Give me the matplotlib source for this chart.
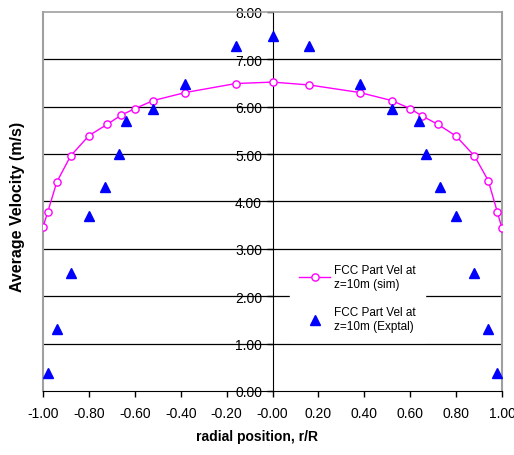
import matplotlib.pyplot as plt
import numpy as np

plt.rcParams['font.family'] = ['Liberation Sans', 'DejaVu Sans']

# simulation (line with open circles)
sim_r = [-1.00, -0.98, -0.94, -0.88, -0.80, -0.72, -0.66, -0.60, -0.52, -0.38, -0.16, 0.00,
         0.16, 0.38, 0.52, 0.60, 0.65, 0.72, 0.80, 0.88, 0.94, 0.98, 1.00]
sim_v = [3.46, 3.77, 4.41, 4.96, 5.39, 5.63, 5.82, 5.96, 6.13, 6.30, 6.49, 6.52,
         6.46, 6.30, 6.13, 5.96, 5.81, 5.63, 5.38, 4.96, 4.44, 3.77, 3.43]

# experimental (triangles)
exp_r = [-0.98, -0.94, -0.88, -0.80, -0.73, -0.67, -0.64, -0.52, -0.38, -0.16, 0.00,
         0.16, 0.38, 0.52, 0.64, 0.67, 0.73, 0.80, 0.88, 0.94, 0.98]
exp_v = [0.39, 1.31, 2.50, 3.69, 4.30, 5.00, 5.70, 5.95, 6.49, 7.28, 7.50,
         7.28, 6.49, 5.96, 5.70, 5.00, 4.30, 3.69, 2.50, 1.31, 0.39]

xticks = np.arange(-1.0, 1.01, 0.2)
yticks = np.arange(0, 8.01, 1.0)

fig = plt.figure(figsize=(5.14, 4.56), dpi=100)
ax = fig.add_axes([0.0837, 0.1404, 0.893, 0.8311])

ax.plot(sim_r, sim_v, color='#ff00ff', lw=1, marker='o', ms=5.2,
        mfc='white', mec='#ff00ff', mew=1, label='FCC Part Vel at\nz=10m (sim)', zorder=4)
ax.plot(exp_r, exp_v, ls='none', marker='^', ms=7, color='#0000ff',
        label='FCC Part Vel at\nz=10m (Exptal)', zorder=4)

ax.set_xlim(-1, 1)
ax.set_ylim(0, 8)
ax.set_xticks(xticks)
ax.set_yticks(yticks)
ax.set_xticklabels(['%.2f' % v for v in xticks])
ax.set_yticklabels(['%.2f' % v for v in yticks])
ax.tick_params(labelsize=10, length=4, width=1, colors='black')
ax.tick_params(axis='x', pad=7)

# horizontal gridlines (top one is the gray frame)
for y in yticks[1:-1]:
    ax.axhline(y, color='black', lw=0.9, zorder=1)

ax.spines['left'].set_position(('data', 0))
ax.spines['left'].set_color('black')
ax.spines['left'].set_zorder(2)
ax.spines['right'].set_color('#a0a0a0')
ax.spines['right'].set_linewidth(1.5)
ax.spines['top'].set_color('#a0a0a0')
ax.spines['top'].set_linewidth(1.2)
ax.spines['bottom'].set_color('black')
ax.axvline(-1, color='#a0a0a0', lw=1.5, zorder=1, clip_on=False)

fig.text(0.5, 0.042, 'radial position, r/R', ha='center', va='center',
         fontsize=10, fontweight='bold')
fig.text(0.035, 0.546, 'Average Velocity (m/s)', rotation=90, ha='center', va='center',
         fontsize=11.5, fontweight='bold')

leg = ax.legend(loc='center left', bbox_to_anchor=(0.525, 0.245), frameon=True,
                fontsize=8.5, labelspacing=1.4, handlelength=2.6, handletextpad=0.3,
                borderpad=0.8, fancybox=False, framealpha=1)
leg.get_frame().set_edgecolor('white')
leg.set_zorder(3)

fig.savefig('out.png', dpi=100)
